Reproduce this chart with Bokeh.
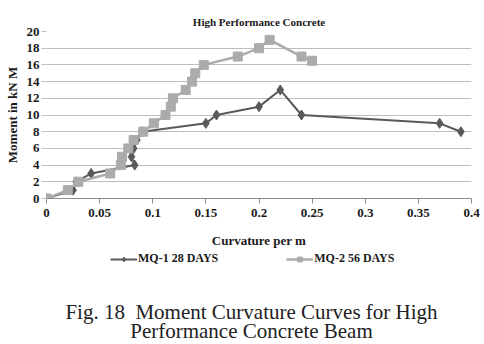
from bokeh.plotting import figure
from bokeh.layouts import column
from bokeh.models import Range1d, FixedTicker, Legend, LegendItem
from bokeh.core.properties import value
from bokeh.embed import file_html
from bokeh.resources import INLINE

# Data
mq1_x = [0, 0.025, 0.028, 0.042, 0.083, 0.080, 0.082, 0.085, 0.090, 0.15, 0.16, 0.20, 0.22, 0.24, 0.37, 0.39]
mq1_y = [0, 1, 2, 3, 4, 5, 6, 7, 8, 9, 10, 11, 13, 10, 9, 8]
mq2_x = [0, 0.020, 0.030, 0.060, 0.070, 0.071, 0.077, 0.082, 0.091, 0.101, 0.112, 0.117, 0.119, 0.131, 0.137, 0.140, 0.148, 0.180, 0.200, 0.210, 0.240, 0.250]
mq2_y = [0, 1, 2, 3, 4, 5, 6, 7, 8, 9, 10, 11, 12, 13, 14, 15, 16, 17, 18, 19, 17, 16.5]
x_ticks = [0, 0.05, 0.1, 0.15, 0.2, 0.25, 0.3, 0.35, 0.4]
x_tick_labels = ["0", "0.05", "0.1", "0.15", "0.2", "0.25", "0.3", "0.35", "0.4"]
y_ticks = [0, 2, 4, 6, 8, 10, 12, 14, 16, 18, 20]
series_names = ["MQ-1 28 DAYS", "MQ-2 56 DAYS"]
caption_lines = ["Fig. 18\u00a0 Moment Curvature Curves for High", "Performance Concrete Beam"]

SERIF = "Liberation Serif"
DARK = "#595959"
LIGHT = "#ababab"
TXT = "#1a1a1a"

p = figure(width=484, height=250, output_backend="svg", toolbar_location=None,
           x_range=Range1d(0, 0.4), y_range=Range1d(0, 20),
           min_border_left=46, min_border_right=13, min_border_top=31, min_border_bottom=51)
p.outline_line_color = None
p.background_fill_color = "white"
p.border_fill_color = "white"

p.title.text = "High Performance Concrete"
p.title.align = "center"
p.title.vertical_align = "top"
p.title.text_font = SERIF
p.title.text_font_size = "11px"
p.title.text_font_style = "bold"
p.title.text_color = TXT
p.title.standoff = 4

# grid
p.xgrid.grid_line_color = None
p.ygrid.grid_line_color = "#bdbdbd"
p.ygrid.grid_line_width = 1

# axes
p.xaxis.ticker = FixedTicker(ticks=x_ticks)
p.xaxis.major_label_overrides = {t: l for t, l in zip(x_ticks, x_tick_labels)}
p.yaxis.ticker = FixedTicker(ticks=y_ticks)
p.xaxis.minor_tick_line_color = None
p.yaxis.minor_tick_line_color = None
p.yaxis.major_tick_line_color = "#bdbdbd"
p.yaxis.major_tick_in = 0
p.yaxis.major_tick_out = 5
p.yaxis.axis_line_color = None
p.xaxis.axis_line_color = "#8c8c8c"
p.xaxis.major_tick_line_color = "#8c8c8c"
p.xaxis.major_tick_in = 0
p.xaxis.major_tick_out = 5
for ax in (p.xaxis, p.yaxis):
    ax.major_label_text_font = SERIF
    ax.major_label_text_font_style = "bold"
    ax.major_label_text_font_size = "13px"
    ax.major_label_text_color = TXT
    ax.axis_label_text_font = SERIF
    ax.axis_label_text_font_style = "bold"
    ax.axis_label_text_font_size = "13px"
    ax.axis_label_text_color = TXT
p.xaxis.axis_label = "Curvature per m"
p.yaxis.axis_label = "Moment in kN M"
p.xaxis.major_label_standoff = 5
p.xaxis.axis_label_standoff = 13
p.yaxis.major_label_standoff = 2
p.yaxis.axis_label_standoff = 4

p.line(mq1_x, mq1_y, line_color=DARK, line_width=2)
p.scatter(mq1_x, mq1_y, marker="diamond", size=10, fill_color=DARK, line_color=DARK)
p.line(mq2_x, mq2_y, line_color=LIGHT, line_width=2.5)
p.scatter(mq2_x, mq2_y, marker="square", size=9, fill_color=LIGHT, line_color=LIGHT)

# lower figure: legend + caption (its frame is aligned with the main frame: 46..471 px)
c = figure(width=484, height=94, output_backend="svg", toolbar_location=None,
           x_range=Range1d(46, 471), y_range=Range1d(0, 94),
           x_axis_location=None, y_axis_location=None,
           min_border_left=46, min_border_right=13, min_border_top=0, min_border_bottom=0)
c.grid.visible = False
c.outline_line_color = None
# legend proxies: hidden copies of the series, used only for the legend swatches
k1 = c.line(mq1_x, mq1_y, line_color=DARK, line_width=2, visible=False)
s1 = c.scatter(mq1_x, mq1_y, marker="diamond", size=10, fill_color=DARK, line_color=DARK, visible=False)
k2 = c.line(mq2_x, mq2_y, line_color=LIGHT, line_width=2.5, visible=False)
s2 = c.scatter(mq2_x, mq2_y, marker="square", size=9, fill_color=LIGHT, line_color=LIGHT, visible=False)
legend = Legend(items=[LegendItem(label=series_names[0], renderers=[k1, s1]),
                       LegendItem(label=series_names[1], renderers=[k2, s2])],
                orientation="horizontal", location=(64, 78),
                label_text_font=SERIF, label_text_font_style="bold",
                label_text_font_size="12px", label_text_color=TXT,
                spacing=68, glyph_width=27, glyph_height=12, padding=0, margin=0,
                label_standoff=1, label_height=12, border_line_color=None,
                background_fill_alpha=0, inactive_fill_alpha=0)
c.add_layout(legend, "center")
c.text(x=[251, 251], y=[33, 14], text=caption_lines,
       text_font=value(SERIF), text_font_size="21px", text_color="#222222",
       text_align="center", text_baseline="middle")

open("out.html", "w").write(file_html(column(p, c, spacing=0), INLINE))
